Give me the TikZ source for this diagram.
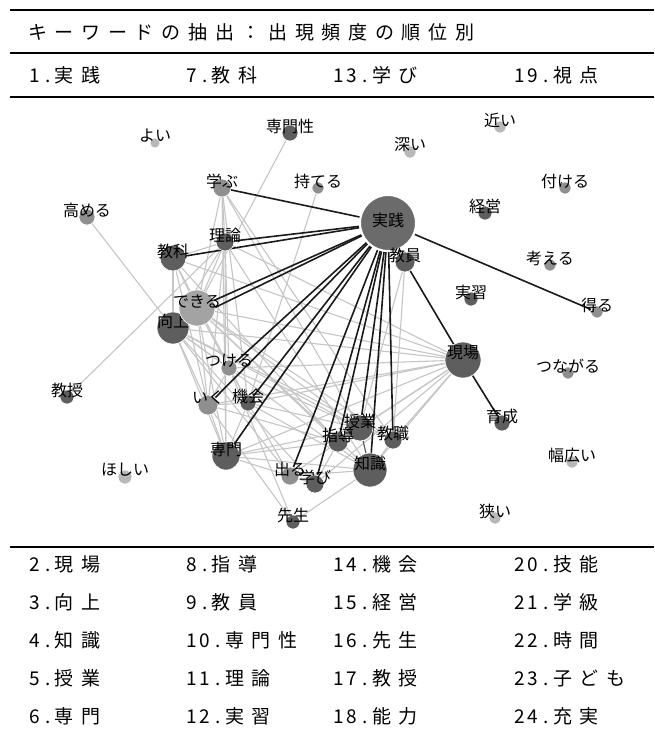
\documentclass[tikz,border=0pt]{standalone}
\usepackage{fontspec}
\setmainfont{Noto Sans CJK JP}
\newfontfamily\jp{Noto Sans CJK JP}
\makeatletter
\newcommand\hwchars[1]{\@tfor\hw@c:=#1\do{\makebox[13.3pt][c]{\hw@c}}}
\newcommand\fwchars[1]{\@tfor\fw@c:=#1\do{\makebox[26.7pt][l]{\fw@c}}}
\makeatother
\newcommand\cellt[2]{\hwchars{#1}\fwchars{#2}}
\pgfdeclarelayer{bg}
\pgfsetlayers{bg,main}
\definecolor{ndark}{HTML}{5E5E5E}
\definecolor{ncore}{HTML}{6B6B6B}
\definecolor{nmid}{HTML}{8F8F8F}
\definecolor{nlm}{HTML}{A3A3A3}
\definecolor{nlight}{HTML}{B8B8B8}
\definecolor{edark}{HTML}{1A1A1A}
\definecolor{egray}{HTML}{C6C6C6}
\tikzset{
  rule/.style={line width=2pt, black},
  tabtxt/.style={anchor=base west, inner sep=0pt, font=\jp\fontsize{19}{19}\selectfont},
  kwc/.style={circle, inner sep=0pt, draw=white, line width=0.6pt},
  kwl/.style={inner sep=0pt, font=\jp\fontsize{16}{16}\selectfont, text=black},
  ed/.style={edark, line width=1.6pt},
  eg/.style={egray, line width=1.1pt},
}
% name, x, y, diameter, colour, label
\newcommand\kw[6]{%
  \node[kwc, fill=#5, minimum size=#4pt] (#1) at (#2,#3) {};
  \node[kwl] (#1-l) at (#2,#3-7) {#6};}
\begin{document}
\begin{tikzpicture}[x=1pt,y=-1pt]
\useasboundingbox (0,0) rectangle (654,753);
\begin{pgfonlayer}{bg}
\fill[white] (0,0) rectangle (654,753);
\end{pgfonlayer}
% rules
\coordinate (r1a) at (10,10);  \coordinate (r1b) at (654,10);
\coordinate (r2a) at (10,53);  \coordinate (r2b) at (654,53);
\coordinate (r3a) at (10,97);  \coordinate (r3b) at (654,97);
\coordinate (r4a) at (10,547); \coordinate (r4b) at (654,547);
\draw[rule] (r1a) -- (r1b);
\draw[rule] (r2a) -- (r2b);
\draw[rule] (r3a) -- (r3b);
\draw[rule] (r4a) -- (r4b);
% title and first row
\node[tabtxt] (title) at (28,39) {\fwchars{キーワードの抽出：出現頻度の順位別}};
\node[tabtxt] (t1) at (28,82) {\cellt{1.}{実践}};
\node[tabtxt] (t7) at (185,82) {\cellt{7.}{教科}};
\node[tabtxt] (t13) at (332,82) {\cellt{13.}{学び}};
\node[tabtxt] (t19) at (513,82) {\cellt{19.}{視点}};
% bottom rows
\node[tabtxt] (t2) at (28,571) {\cellt{2.}{現場}};
\node[tabtxt] (t3) at (28,609) {\cellt{3.}{向上}};
\node[tabtxt] (t4) at (28,647) {\cellt{4.}{知識}};
\node[tabtxt] (t5) at (28,685) {\cellt{5.}{授業}};
\node[tabtxt] (t6) at (28,723) {\cellt{6.}{専門}};
\node[tabtxt] (t8) at (185,571) {\cellt{8.}{指導}};
\node[tabtxt] (t9) at (185,609) {\cellt{9.}{教員}};
\node[tabtxt] (t10) at (185,647) {\cellt{10.}{専門性}};
\node[tabtxt] (t11) at (185,685) {\cellt{11.}{理論}};
\node[tabtxt] (t12) at (185,723) {\cellt{12.}{実習}};
\node[tabtxt] (t14) at (332,571) {\cellt{14.}{機会}};
\node[tabtxt] (t15) at (332,609) {\cellt{15.}{経営}};
\node[tabtxt] (t16) at (332,647) {\cellt{16.}{先生}};
\node[tabtxt] (t17) at (332,685) {\cellt{17.}{教授}};
\node[tabtxt] (t18) at (332,723) {\cellt{18.}{能力}};
\node[tabtxt] (t20) at (513,571) {\cellt{20.}{技能}};
\node[tabtxt] (t21) at (513,609) {\cellt{21.}{学級}};
\node[tabtxt] (t22) at (513,647) {\cellt{22.}{時間}};
\node[tabtxt] (t23) at (513,685) {\cellt{23.}{子ども}};
\node[tabtxt] (t24) at (513,723) {\cellt{24.}{充実}};
% network nodes
\node[kwc, fill=ncore, draw=white, line width=2pt, minimum size=56pt] (jissen) at (388,223) {};
\kw{genba}{463}{360}{36}{ndark}{現場}
\kw{kojo}{173}{328}{32}{ndark}{向上}
\kw{chishiki}{370}{470}{34}{ndark}{知識}
\kw{jugyo}{360}{428}{26}{ndark}{授業}
\kw{senmon}{226}{456}{28}{ndark}{専門}
\kw{kyoka}{173}{258}{26}{ndark}{教科}
\kw{shido}{338}{442}{20}{ndark}{指導}
\kw{kyoin}{405}{262}{20}{ndark}{教員}
\kw{senmonsei}{290}{133}{16}{ndark}{専門性}
\kw{riron}{225}{242}{18}{ndark}{理論}
\kw{jisshu}{471}{299}{14}{ndark}{実習}
\kw{manabi}{315}{484}{18}{ndark}{学び}
\kw{kikai}{248}{403}{16}{ndark}{機会}
\kw{keiei}{485}{213}{14}{ndark}{経営}
\kw{sensei}{293}{522}{14}{ndark}{先生}
\kw{kyoju}{67}{397}{14}{ndark}{教授}
\kw{ikusei}{502}{423}{16}{ndark}{育成}
\kw{kyoshoku}{393}{440}{18}{ndark}{教職}
\kw{dekiru}{197}{308}{36}{nlm}{できる}
\kw{manabu}{222}{188}{18}{nmid}{学ぶ}
\kw{tsukeru}{229}{368}{16}{nmid}{つける}
\kw{iku}{208}{405}{20}{nmid}{いく}
\kw{deru}{290}{476}{18}{nmid}{出る}
\kw{takameru}{87}{217}{16}{nmid}{高める}
\kw{moteru}{318}{188}{12}{nmid}{持てる}
\kw{eru}{597}{312}{12}{nmid}{得る}
\kw{tsukeruB}{565}{188}{12}{nmid}{付ける}
\kw{kangaeru}{550}{265}{12}{nmid}{考える}
\kw{tsunagaru}{568}{373}{12}{nmid}{つながる}
\kw{yoi}{155}{143}{10}{nlight}{よい}
\kw{chikai}{500}{127}{12}{nlight}{近い}
\kw{fukai}{410}{152}{12}{nlight}{深い}
\kw{hoshii}{125}{477}{14}{nlight}{ほしい}
\kw{habahiroi}{572}{462}{12}{nlight}{幅広い}
\kw{semai}{495}{518}{12}{nlight}{狭い}
\node[kwl] (jissen-l) at (388,220) {実践};
% edges
\begin{pgfonlayer}{bg}
\foreach \a/\b in {manabu/riron, manabu/dekiru, manabu/senmon, manabu/kikai, manabu/jugyo, manabu/kyoshoku,
  riron/kyoka, riron/dekiru, riron/kojo, riron/senmon, riron/iku, riron/tsukeru, riron/genba, riron/chishiki, riron/kyoju,
  kyoka/dekiru, kyoka/kojo, kyoka/iku, kyoka/kikai, kyoka/genba, kyoka/shido,
  senmonsei/dekiru, takameru/kojo, moteru/kikai,
  dekiru/kojo, dekiru/tsukeru, dekiru/iku, dekiru/senmon, dekiru/jugyo, dekiru/genba, dekiru/chishiki, dekiru/shido, dekiru/kyoshoku,
  kojo/tsukeru, kojo/iku, kojo/senmon, kojo/deru, kojo/manabi, kojo/genba, kojo/jugyo, kojo/chishiki, kojo/kyoshoku,
  tsukeru/iku, tsukeru/kikai, tsukeru/genba, tsukeru/jugyo, tsukeru/sensei,
  iku/senmon, iku/kikai, iku/genba, iku/shido, iku/sensei,
  kikai/senmon, kikai/genba, kikai/jugyo, kikai/chishiki, kikai/deru,
  senmon/genba, senmon/chishiki, senmon/shido, senmon/manabi, senmon/jugyo,
  deru/manabi, deru/shido, deru/chishiki,
  manabi/shido, manabi/genba, sensei/chishiki,
  shido/jugyo, shido/genba, jugyo/genba, jugyo/kyoshoku,
  chishiki/genba, chishiki/kyoshoku, kyoshoku/genba,
  kyoin/kyoshoku, kyoin/jugyo}
  \draw[eg] (\a) -- (\b);
\foreach \b in {manabu, riron, kyoka, dekiru, kojo, tsukeru, iku, kikai, senmon, deru, manabi, shido, jugyo, chishiki, kyoshoku, kyoin, eru}
  \draw[ed] (jissen) -- (\b);
\draw[ed] (kyoin) -- (genba);
\draw[ed] (genba) -- (ikusei);
\draw[ed, line width=1.2pt, edark!70] (jugyo) -- (chishiki);
\end{pgfonlayer}
\end{tikzpicture}
\end{document}
